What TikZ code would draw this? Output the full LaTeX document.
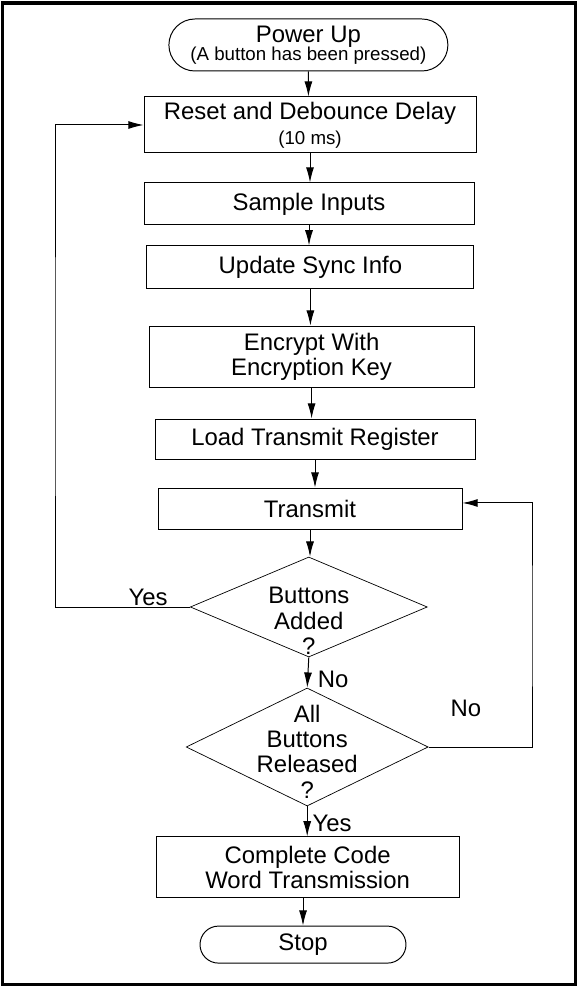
\documentclass[tikz,border=0pt]{standalone}
\usepackage{fontspec}
\setmainfont{Liberation Sans}
\usetikzlibrary{shapes.geometric,shapes.misc,arrows.meta}

\newcommand{\bigtext}{\fontsize{17}{18}\selectfont}
\newcommand{\smalltext}{\fontsize{13.3}{14}\selectfont}

\begin{document}
\begin{tikzpicture}[
    process/.style={draw, line width=0.7pt, rectangle, align=center, font=\bigtext, inner sep=0pt},
    terminal/.style={draw, line width=0.7pt, rounded rectangle, align=center, font=\bigtext, inner sep=0pt},
    decision/.style={draw, line width=0.5pt, diamond, inner sep=0pt},
    flow/.style={line width=0.7pt, -{Latex[length=3.8mm,width=2mm]}},
    tag/.style={font=\bigtext, inner sep=0pt, align=center}
]
    \useasboundingbox (0,0) rectangle (14.45,24.675);
    \draw[line width=2.2pt] (0.06,0.07) rectangle (14.39,24.6);

    % steps of the sequence
    \node[terminal, minimum width=6.975cm, minimum height=1.3cm] (power) at (7.71,23.55) {Power Up\\[-5pt]{\smalltext (A button has been pressed)}};
    \node[process, minimum width=8.3cm, minimum height=1.4cm] (reset) at (7.75,21.55) {Reset and Debounce Delay\\{\smalltext (10 ms)}};
    \node[process, minimum width=8.25cm, minimum height=1.05cm] (sample) at (7.725,19.575) {Sample Inputs};
    \node[process, minimum width=8.175cm, minimum height=1.075cm] (sync) at (7.76,17.99) {Update Sync Info};
    \node[process, minimum width=8.125cm, minimum height=1.525cm] (encrypt) at (7.79,15.76) {Encrypt With\\Encryption Key};
    \node[process, minimum width=8cm, minimum height=1cm] (load) at (7.875,13.7) {Load Transmit Register};
    \node[process, minimum width=7.6cm, minimum height=1.025cm] (transmit) at (7.75,11.96) {Transmit};

    % the two questions
    \node[decision, minimum width=5.925cm, minimum height=2.5cm] (added) at (7.72,9.5) {};
    \node[tag] (addedtxt) at (7.72,9.15) {Buttons\\Added\\?};
    \node[decision, minimum width=6.05cm, minimum height=2.95cm] (released) at (7.68,6.0) {};
    \node[tag] (releasedtxt) at (7.68,5.89) {All\\Buttons\\Released\\?};

    \node[process, minimum width=7.575cm, minimum height=1.525cm] (complete) at (7.69,2.99) {Complete Code\\Word Transmission};
    \node[terminal, minimum width=5.15cm, minimum height=0.925cm] (stop) at (7.575,1.06) {Stop};

    % arrows down the middle
    \draw[flow] (power) -- (power |- reset.north);
    \draw[flow] (reset) -- (reset |- sample.north);
    \draw[flow] (sample) -- (sample |- sync.north);
    \draw[flow] (sync) -- (sync |- encrypt.north);
    \draw[flow] (encrypt) -- (encrypt |- load.north);
    \draw[flow] (load) -- (load |- transmit.north);
    \draw[flow] (transmit) -- (transmit |- added.north);
    \draw[flow] (added.south) -- (released.north);
    \draw[flow] (released.south) -- (released.south |- complete.north);
    \draw[flow] (complete.south -| stop.north) -- (stop.north);

    % loops back
    \coordinate (yesleft) at (1.375,15);
    \coordinate (noright) at (13.3,9);
    \draw[flow] (added.west) -| (yesleft) |- (reset.west);
    \draw[flow] (released.east) -| (noright) |- ([yshift=4pt]transmit.east);

    \node[tag] (yesadded) at (3.7,9.75) {Yes};
    \node[tag] (noadded) at (8.33,7.68) {No};
    \node[tag] (noreleased) at (11.65,6.975) {No};
    \node[tag] (yesreleased) at (8.3,4.1) {Yes};
\end{tikzpicture}
\end{document}
